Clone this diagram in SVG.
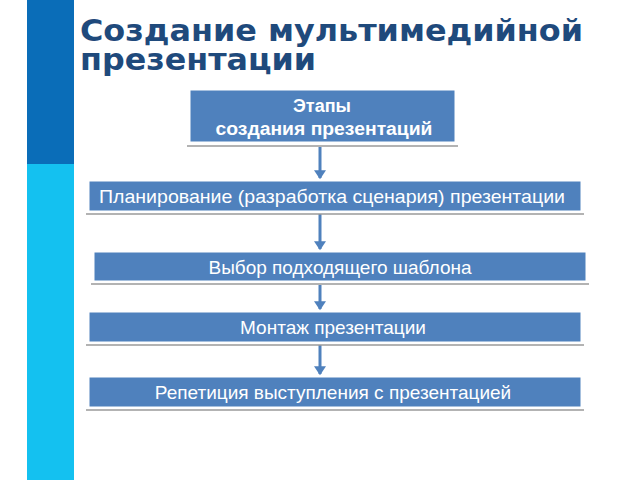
<svg xmlns="http://www.w3.org/2000/svg" width="640" height="480" viewBox="0 0 640 480">
<style>
.box{fill:#4f81bd;stroke:#ffffff;stroke-width:1}
.sh{stroke:#9a9a9a;stroke-width:1.5}
.t{font-family:"Liberation Sans",Arial,sans-serif;font-size:19px;fill:#ffffff;text-anchor:middle}
.tb{font-family:"Liberation Sans",Arial,sans-serif;font-size:18px;font-weight:bold;fill:#ffffff;text-anchor:middle}
.title{font-family:"DejaVu Sans",sans-serif;font-size:31px;font-weight:bold;fill:#1f4a7c}
.conn{stroke:#4f81bd;stroke-width:3;fill:none}
</style>
<defs>
<marker id="ah" markerWidth="4" markerHeight="4" refX="2.6" refY="2" orient="auto" markerUnits="strokeWidth">
<path d="M0,0 L3,2 L0,4 Z" fill="#4f81bd"/>
</marker>
</defs>
<rect width="640" height="480" fill="#ffffff"/>
<g id="sidebar">
<rect x="27" y="0" width="47" height="164" fill="#0a6db8"/>
<rect x="27" y="164" width="47" height="316" fill="#14c1f0"/>
</g>
<g id="title">
<text class="title" x="80" y="41" textLength="503" lengthAdjust="spacingAndGlyphs">Создание мультимедийной</text>
<text class="title" x="80" y="70" textLength="236" lengthAdjust="spacingAndGlyphs">презентации</text>
</g>
<g id="connectors">
<line class="conn" x1="320" y1="147" x2="320" y2="178" marker-end="url(#ah)"/>
<line class="conn" x1="320" y1="214" x2="320" y2="249" marker-end="url(#ah)"/>
<line class="conn" x1="320" y1="285" x2="320" y2="309" marker-end="url(#ah)"/>
<line class="conn" x1="320" y1="345" x2="320" y2="374" marker-end="url(#ah)"/>
</g>
<g id="n0">
<line class="sh" x1="187" y1="146" x2="458" y2="146"/>
<rect class="box" x="190" y="90" width="265" height="52"/>
<text class="tb" x="322" y="112">Этапы</text>
<text class="tb" x="324" y="135" textLength="217" lengthAdjust="spacingAndGlyphs">создания презентаций</text>
</g>
<g id="n1">
<line class="sh" x1="86" y1="214" x2="584" y2="214"/>
<rect class="box" x="89" y="181" width="492" height="30"/>
<text class="t" x="332" y="203" textLength="466" lengthAdjust="spacingAndGlyphs">Планирование (разработка сценария) презентации</text>
</g>
<g id="n2">
<line class="sh" x1="91" y1="284" x2="589" y2="284"/>
<rect class="box" x="94" y="252" width="492" height="29"/>
<text class="t" x="340" y="274">Выбор подходящего шаблона</text>
</g>
<g id="n3">
<line class="sh" x1="86" y1="345" x2="584" y2="345"/>
<rect class="box" x="89" y="312" width="492" height="30"/>
<text class="t" x="333" y="334">Монтаж презентации</text>
</g>
<g id="n4">
<line class="sh" x1="86" y1="410" x2="584" y2="410"/>
<rect class="box" x="89" y="377" width="492" height="30"/>
<text class="t" x="333" y="399">Репетиция выступления с презентацией</text>
</g>
</svg>
